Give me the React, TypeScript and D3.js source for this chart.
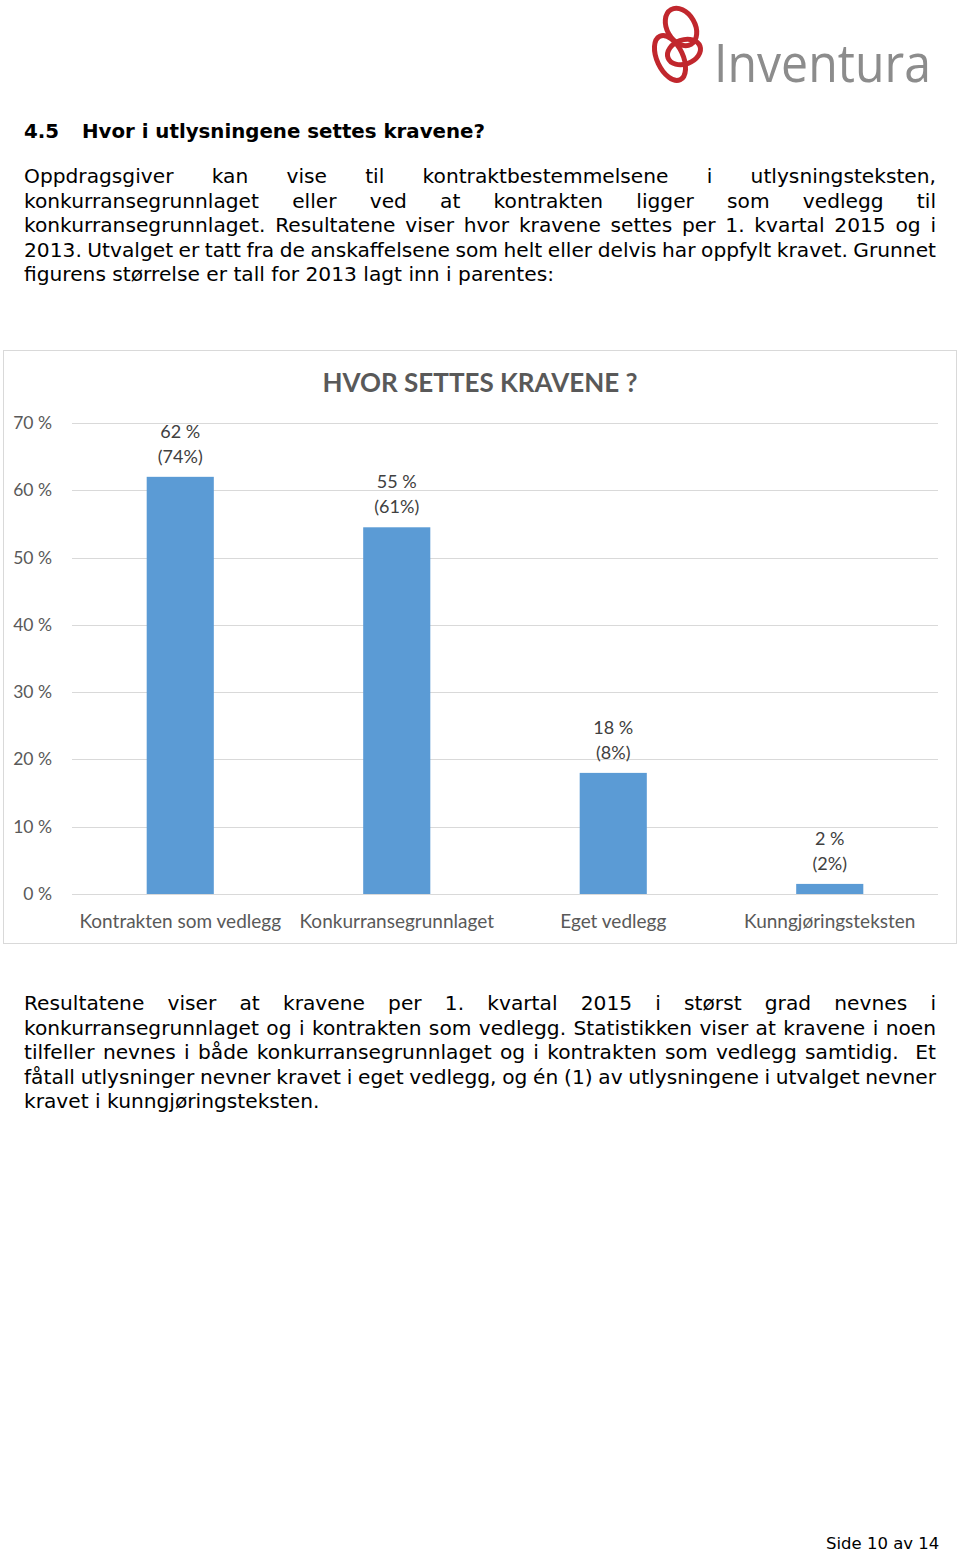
import React from "react";
import * as d3 from "d3";

const categories = ["Kontrakten som vedlegg", "Konkurransegrunnlaget", "Eget vedlegg", "Kunngjøringsteksten"];
const values2015 = [62, 54.5, 18, 1.5];
const labels2015 = ["62 %", "55 %", "18 %", "2 %"];
const labels2013 = ["(74%)", "(61%)", "(8%)", "(2%)"];
const yTicks = [0, 10, 20, 30, 40, 50, 60, 70];

const heading = "Hvor i utlysningene settes kravene?";
const para1 = [
  "Oppdragsgiver kan vise til kontraktbestemmelsene i utlysningsteksten,",
  "konkurransegrunnlaget eller ved at kontrakten ligger som vedlegg til",
  "konkurransegrunnlaget. Resultatene viser hvor kravene settes per 1. kvartal 2015 og i",
  "2013. Utvalget er tatt fra de anskaffelsene som helt eller delvis har oppfylt kravet. Grunnet",
  "figurens størrelse er tall for 2013 lagt inn i parentes:",
];
const para2 = [
  "Resultatene viser at kravene per 1. kvartal 2015 i størst grad nevnes i",
  "konkurransegrunnlaget og i kontrakten som vedlegg. Statistikken viser at kravene i noen",
  "tilfeller nevnes i både konkurransegrunnlaget og i kontrakten som vedlegg samtidig.  Et",
  "fåtall utlysninger nevner kravet i eget vedlegg, og én (1) av utlysningene i utvalget nevner",
  "kravet i kunngjøringsteksten.",
];

const BODY_FONT = "DejaVu Sans, Verdana, sans-serif";
const BODY_SIZE = 20.2;
const CHART_FONT = "Lato, Carlito, Calibri, sans-serif";

let ctx: CanvasRenderingContext2D | null = null;
function measure(text: string, font: string): number {
  if (!ctx) {
    const c = document.createElement("canvas");
    ctx = c.getContext("2d");
  }
  if (!ctx) return text.length * 10;
  ctx.font = font;
  return ctx.measureText(text).width;
}

function Paragraph({ lines, x, y0, lh, width }: { lines: string[]; x: number; y0: number; lh: number; width: number }) {
  return (
    <g>
      {lines.map((ln, i) => {
        const last = i === lines.length - 1;
        const spaces = (ln.match(/ /g) || []).length;
        const w = measure(ln, `${BODY_SIZE}px DejaVu Sans`);
        let ws = 0;
        let extra: any = {};
        if (!last && spaces > 0) {
          ws = (width - w) / spaces;
          if (ws < -2) {
            ws = -2;
            extra = { textLength: width, lengthAdjust: "spacingAndGlyphs" };
          }
        }
        return (
          <text key={i} x={x} y={y0 + i * lh} fontFamily={BODY_FONT} fontSize={BODY_SIZE} fill="#000" wordSpacing={ws} style={{ whiteSpace: "pre" }} {...extra}>
            {ln}
          </text>
        );
      })}
    </g>
  );
}

export default function App() {
  const W = 960, H = 1553;
  const plotL = 72, plotR = 938, plotTop = 423, plotBottom = 894;
  const x = d3.scaleBand<string>().domain(categories).range([plotL, plotR]).paddingInner(0.69).paddingOuter(0.345);
  const y = d3.scaleLinear().domain([0, 70]).range([plotBottom, plotTop]);
  const gray = "#595959";

  return (
    <svg width={W} height={H} style={{ position: "absolute", left: 0, top: 0 }} xmlns="http://www.w3.org/2000/svg">
      <rect x={0} y={0} width={W} height={H} fill="#fff" />
      {/* logo */}
      <g fill="none" stroke="#c1272d" strokeWidth={5}>
        <ellipse cx={681} cy={27} rx={14} ry={20} transform="rotate(-30 681 27)" />
        <ellipse cx={684} cy={52} rx={17} ry={12} transform="rotate(-20 684 52)" />
        <ellipse cx={670} cy={58} rx={13} ry={24} transform="rotate(-25 670 58)" />
      </g>
      <text x={714} y={82} fontFamily="Open Sans, sans-serif" fontSize={53} fill="#8c8c8c" textLength={217} lengthAdjust="spacingAndGlyphs">Inventura</text>

      {/* heading */}
      <text x={24} y={138} fontFamily={BODY_FONT} fontSize={19.8} fontWeight="bold" fill="#000">4.5</text>
      <text x={82} y={138} fontFamily={BODY_FONT} fontSize={19.8} fontWeight="bold" fill="#000">{heading}</text>

      <Paragraph lines={para1} x={24} y0={183} lh={24.5} width={912} />

      {/* chart */}
      <rect x={3.5} y={350.5} width={953} height={593} fill="#fff" stroke="#d9d9d9" />
      <text x={480} y={392} textAnchor="middle" fontFamily={CHART_FONT} fontSize={26} fontWeight="bold" fill={gray}>HVOR SETTES KRAVENE ?</text>
      {yTicks.map((t) => (
        <g key={t}>
          <line x1={plotL} x2={plotR} y1={Math.round(y(t)) + 0.5} y2={Math.round(y(t)) + 0.5} stroke="#d9d9d9" />
          <text x={52} y={y(t) + 6} textAnchor="end" fontFamily={CHART_FONT} fontSize={17.5} fill={gray}>{`${t} %`}</text>
        </g>
      ))}
      {categories.map((c, i) => {
        const bx = x(c)!;
        const cx = bx + x.bandwidth() / 2;
        const top = y(values2015[i]);
        return (
          <g key={c}>
            <rect x={bx} y={top} width={x.bandwidth()} height={plotBottom - top} fill="#5b9bd5" />
            <text x={cx} y={top - 39} textAnchor="middle" fontFamily={CHART_FONT} fontSize={18} fill="#404040">{labels2015[i]}</text>
            <text x={cx} y={top - 14} textAnchor="middle" fontFamily={CHART_FONT} fontSize={18} fill="#404040">{labels2013[i]}</text>
            <text x={cx} y={928} textAnchor="middle" fontFamily={CHART_FONT} fontSize={19} fill={gray}>{c}</text>
          </g>
        );
      })}

      <Paragraph lines={para2} x={24} y0={1010} lh={24.5} width={912} />

      <text x={826} y={1549} fontFamily={BODY_FONT} fontSize={16.5} fill="#000">Side 10 av 14</text>
    </svg>
  );
}
